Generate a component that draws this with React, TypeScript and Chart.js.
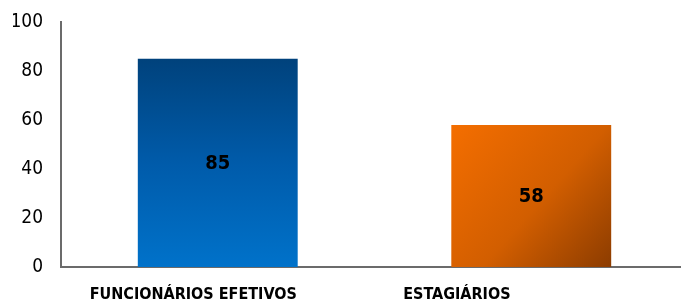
import React, { useEffect, useRef } from "react";
import { Chart, registerables } from "chart.js";

Chart.register(...registerables);

const categories = ["FUNCIONÁRIOS EFETIVOS", "ESTAGIÁRIOS"];
const values = [85, 58];
const yTicks = [0, 20, 40, 60, 80, 100];

const FONT = "'Liberation Sans Narrow', 'Arial Narrow', 'DejaVu Sans Condensed', Arial, sans-serif";

const valueLabels = {
  id: "valueLabels",
  afterDatasetsDraw(chart: any) {
    const ctx = chart.ctx;
    const meta = chart.getDatasetMeta(0);
    ctx.save();
    ctx.fillStyle = "#000";
    ctx.font = `bold 20px ${FONT}`;
    ctx.textAlign = "center";
    ctx.textBaseline = "middle";
    meta.data.forEach((bar: any, i: number) => {
      ctx.fillText(String(values[i]), bar.x, (bar.y + bar.base) / 2 + 1);
    });
    ctx.restore();
  },
};

export default function App() {
  const ref = useRef<HTMLCanvasElement | null>(null);
  useEffect(() => {
    if (!ref.current) return;
    const chart = new Chart(ref.current, {
      type: "bar",
      data: {
        labels: categories,
        datasets: [
          {
            data: values,
            backgroundColor: (c: any) => {
              const ch = c.chart;
              const i = c.dataIndex;
              const xs = ch.scales?.x;
              const ys = ch.scales?.y;
              if (!ch.chartArea || !xs || !ys || i === undefined) return i === 1 ? "#D86000" : "#0060B0";
              const cx = xs.getPixelForValue(i);
              const half = 80;
              const top = ys.getPixelForValue(values[i]);
              const bottom = ys.getPixelForValue(0);
              const g = ch.ctx;
              if (i === 0) {
                const gr = g.createLinearGradient(0, top, 0, bottom);
                gr.addColorStop(0, "#00427C");
                gr.addColorStop(0.5, "#005BAA");
                gr.addColorStop(1, "#0072CA");
                return gr;
              }
              const gr = g.createLinearGradient(cx - half, top, cx + half, bottom);
              gr.addColorStop(0, "#F46E00");
              gr.addColorStop(0.55, "#D25E00");
              gr.addColorStop(1, "#8C3C00");
              return gr;
            },
            borderWidth: 0,
            barPercentage: 0.51,
            categoryPercentage: 1,
          },
        ],
      },
      options: {
        animation: false,
        responsive: false,
        layout: { padding: { left: 13, top: 22, right: 0, bottom: 0 } },
        plugins: { legend: { display: false }, tooltip: { enabled: false } },
        scales: {
          x: {
            grid: { display: false, drawTicks: false },
            border: { display: true, color: "#6B6B6B", width: 2 },
            ticks: {
              color: "#000",
              font: { family: FONT, size: 16, weight: "bold" },
              padding: 18,
              maxRotation: 0,
              align: "start",
              labelOffset: -128,
            },
            afterFit: (s: any) => {
              s.height = 39;
              s.paddingLeft = 0;
              s.paddingRight = 0;
            },
          },
          y: {
            min: 0,
            max: 100,
            afterBuildTicks: (s: any) => {
              s.ticks = yTicks.map((v) => ({ value: v }));
            },
            afterFit: (s: any) => {
              s.width = 48;
              s.paddingTop = 0;
              s.paddingBottom = 0;
            },
            grid: { display: false, drawTicks: false },
            border: { display: true, color: "#6B6B6B", width: 2 },
            ticks: {
              color: "#000",
              font: { family: FONT, size: 19 },
              padding: 18,
            },
          },
        },
      },
      plugins: [valueLabels],
    });
    return () => chart.destroy();
  }, []);
  return (
    <div style={{ position: "fixed", left: 0, top: 0, width: 681, height: 306, overflow: "hidden", background: "#fff" }}>
      <canvas ref={ref} width={688} height={306} style={{ display: "block" }} />
    </div>
  );
}
